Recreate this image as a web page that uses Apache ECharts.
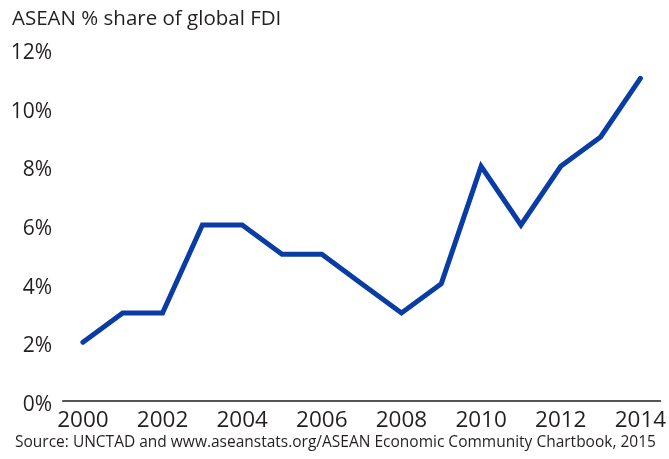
<!doctype html>
<html>
    <head>
        <meta charset="utf-8">
        <style>
            html, body { margin: 0; padding: 0; background: #fff; }
            #main { width: 669px; height: 459px; }
        </style>
    </head>
    <body>
        <div id="main"></div>
        <script src="https://cdn.jsdelivr.net/npm/echarts@6/dist/echarts.min.js"></script>
        <script>
            var chart = echarts.init(document.getElementById('main'));

            var years = ['2000', '2001', '2002', '2003', '2004', '2005', '2006', '2007',
                         '2008', '2009', '2010', '2011', '2012', '2013', '2014'];
            var fdiShare = [2, 3, 3, 6, 6, 5, 5, 4, 3, 4, 8, 6, 8, 9, 11];

            var font = 'Open Sans';
            var textColor = '#231f20';

            chart.setOption({
                animation: false,
                title: [{
                    text: 'ASEAN % share of global FDI',
                    left: 7,
                    top: 4,
                    textStyle: { fontFamily: font, fontSize: 20.5, fontWeight: 'normal', color: textColor }
                }, {
                    text: 'Source: UNCTAD and www.aseanstats.org/ASEAN Economic Community Chartbook, 2015',
                    left: 10,
                    top: 430,
                    textStyle: { fontFamily: font, fontSize: 15.5, fontWeight: 'normal', color: textColor }
                }],
                grid: { left: 63, right: 5, top: 49, bottom: 58, containLabel: false },
                xAxis: {
                    type: 'category',
                    data: years,
                    boundaryGap: true,
                    axisLine: { lineStyle: { color: '#555', width: 2 } },
                    axisTick: { show: false },
                    axisLabel: {
                        interval: 1,
                        margin: 8,
                        fontFamily: font,
                        fontSize: 22.5,
                        color: textColor
                    }
                },
                yAxis: {
                    type: 'value',
                    min: 0,
                    max: 12,
                    interval: 2,
                    splitLine: { show: false },
                    axisLine: { show: false },
                    axisTick: { show: false },
                    axisLabel: {
                        formatter: '{value}%',
                        margin: 11,
                        verticalAlign: 'top',
                        lineHeight: 8,
                        fontFamily: font,
                        fontSize: 21,
                        color: textColor
                    }
                },
                series: [{
                    type: 'line',
                    data: fdiShare,
                    symbol: 'none',
                    lineStyle: { color: '#0a3ca5', width: 5, cap: 'round', join: 'miter' }
                }]
            });

            window.onresize = chart.resize;
        </script>
    </body>
</html>
